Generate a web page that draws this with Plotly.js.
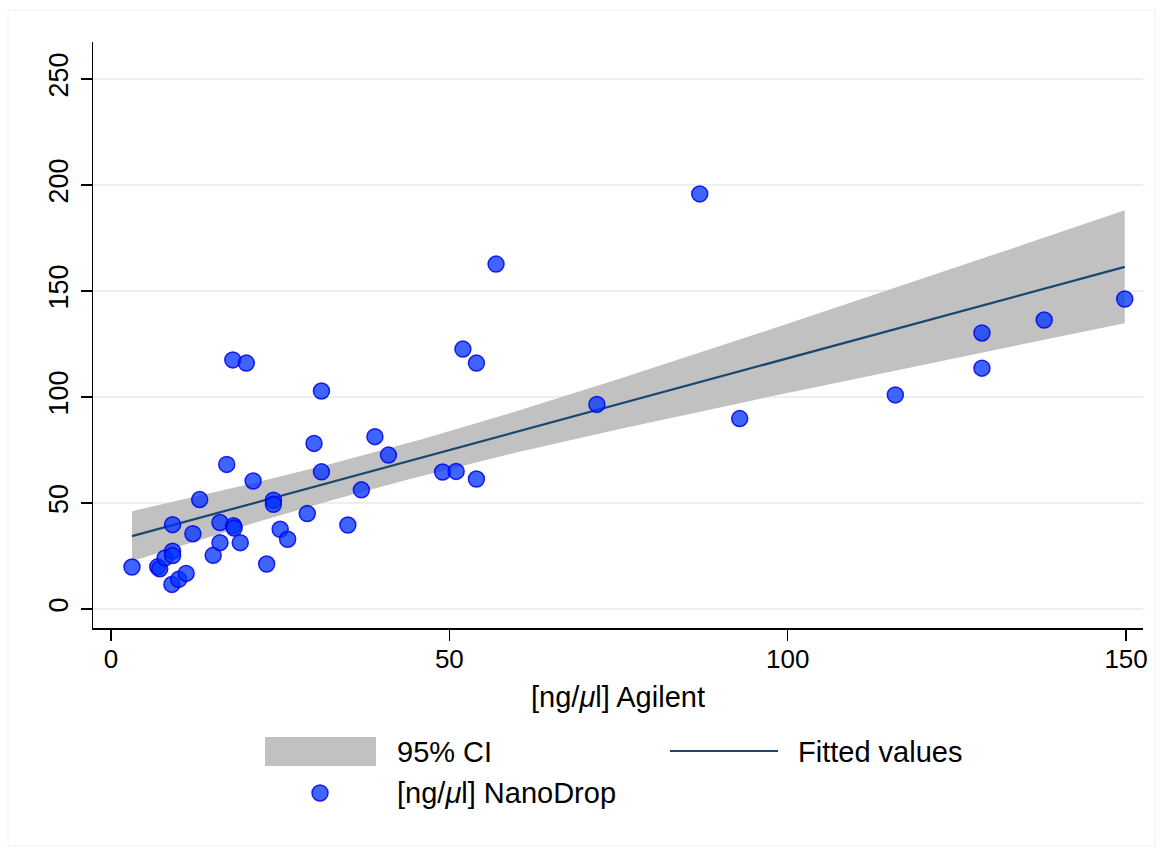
<!DOCTYPE html>
<html>
<head>
<meta charset="utf-8">
<script src="https://cdn.plot.ly/plotly-3.0.1.min.js"></script>
<style>html,body{margin:0;padding:0;background:#fff;}#chart{width:1163px;height:854px;}</style>
</head>
<body>
<div id="chart"></div>
<script>
// [ng/µl] Agilent (x) and [ng/µl] NanoDrop (y)
const agilent = [3.1, 6.9, 7.2, 8.0, 9.1, 9.1, 9.1, 9.0, 10.0, 11.1,
  12.1, 13.1, 15.1, 16.1, 16.1, 17.1, 18.0, 18.1, 18.2, 19.1,
  20.0, 21.0, 23.0, 24.0, 24.0, 25.0, 26.1, 29.0, 30.0, 31.1,
  31.1, 35.0, 37.0, 39.0, 41.0, 49.0, 51.0, 52.0, 54.0, 54.0,
  56.9, 71.8, 87.0, 92.9, 115.9, 128.7, 128.7, 137.9, 149.8];
const nanodrop = [19.8, 19.9, 19.0, 24.1, 27.3, 25.2, 39.8, 11.6, 14.0, 16.8,
  35.5, 51.6, 25.3, 40.8, 31.3, 68.2, 117.5, 39.3, 38.2, 31.3,
  116.0, 60.4, 21.2, 51.3, 49.4, 37.6, 32.9, 45.0, 78.1, 102.8,
  64.7, 39.6, 56.2, 81.3, 72.6, 64.6, 64.9, 122.6, 61.3, 116.0,
  162.7, 96.5, 195.8, 89.8, 101.0, 130.2, 113.6, 136.3, 146.2];
const xTicks = [0, 50, 100, 150];
const yTicks = [0, 50, 100, 150, 200, 250];
const legendLabels = ['95% CI', 'Fitted values', '[ng/<i>μ</i>l] NanoDrop'];

// Linear fit with 95% confidence interval of the mean (like Stata lfitci)
const n = agilent.length;
const mx = agilent.reduce((a, b) => a + b, 0) / n;
const my = nanodrop.reduce((a, b) => a + b, 0) / n;
let sxx = 0, sxy = 0;
for (let i = 0; i < n; i++) { sxx += (agilent[i] - mx) ** 2; sxy += (agilent[i] - mx) * (nanodrop[i] - my); }
const slope = sxy / sxx, icpt = my - slope * mx;
let sse = 0;
for (let i = 0; i < n; i++) { sse += (nanodrop[i] - icpt - slope * agilent[i]) ** 2; }
const s = Math.sqrt(sse / (n - 2));
const tcrit = 2.0117; // t(0.975, df = 47)
const xmin = Math.min(...agilent), xmax = Math.max(...agilent);
const gx = [], gfit = [], glo = [], ghi = [];
const NG = 100;
for (let k = 0; k < NG; k++) {
  const x = xmin + (xmax - xmin) * k / (NG - 1);
  const f = icpt + slope * x;
  const se = s * Math.sqrt(1 / n + (x - mx) ** 2 / sxx);
  gx.push(x); gfit.push(f); glo.push(f - tcrit * se); ghi.push(f + tcrit * se);
}

const FONT = 'Liberation Sans, Arial, Helvetica, sans-serif';
const traces = [
  {x: gx, y: glo, type: 'scatter', mode: 'lines', line: {width: 0, color: 'rgba(0,0,0,0)'}, hoverinfo: 'skip', showlegend: false},
  {x: gx, y: ghi, type: 'scatter', mode: 'lines', line: {width: 0, color: 'rgba(0,0,0,0)'}, fill: 'tonexty', fillcolor: 'rgb(193,193,193)', name: legendLabels[0], showlegend: false},
  {x: gx, y: gfit, type: 'scatter', mode: 'lines', line: {width: 2.2, color: '#1a476f'}, name: legendLabels[1], showlegend: false},
  {x: agilent, y: nanodrop, type: 'scatter', mode: 'markers', name: legendLabels[2], showlegend: false,
   marker: {size: 16, color: 'rgba(0,50,255,0.75)', line: {width: 1.5, color: 'rgba(0,0,235,0.85)'}}}
];

// plot area: x 93..1143 px, y 42..628 px
const L = 93, R = 1143, T = 42, B = 628;
const px = v => (v - L) / (R - L);
const py = v => (B - v) / (B - T);

const layout = {
  width: 1163, height: 854,
  margin: {l: L, r: 1163 - R, t: T, b: 854 - B},
  paper_bgcolor: '#ffffff', plot_bgcolor: '#ffffff',
  font: {family: FONT, color: '#000', size: 26},
  showlegend: false,
  xaxis: {
    range: [-2.66, 152.5], tickvals: xTicks, ticktext: xTicks.map(String),
    showgrid: false, zeroline: false, showline: true, linecolor: '#000', linewidth: 1.5,
    ticks: 'outside', ticklen: 11, tickwidth: 1.5, tickcolor: '#000',
    tickfont: {size: 26, family: FONT}, ticklabelstandoff: -4,
    title: {text: '[ng/<i>μ</i>l] Agilent', font: {size: 29, family: FONT}, standoff: 14},
    automargin: false
  },
  yaxis: {
    range: [-8.96, 267.45], tickvals: yTicks, ticktext: yTicks.map(String),
    showgrid: true, gridcolor: '#e8f0f2', gridwidth: 1.5, zeroline: false,
    showline: true, linecolor: '#000', linewidth: 1.5,
    ticks: 'outside', ticklen: 11, tickwidth: 1.5, tickcolor: '#000',
    tickangle: -90, tickfont: {size: 27, family: FONT}, ticklabelstandoff: 2,
    automargin: false
  },
  shapes: [
    {type: 'rect', xref: 'paper', yref: 'paper', x0: px(8), x1: px(1155), y0: py(10), y1: py(846),
     line: {color: '#eef2f4', width: 1}, fillcolor: 'rgba(0,0,0,0)', layer: 'below'},
    {type: 'rect', xref: 'paper', yref: 'paper', x0: px(265), x1: px(376), y0: py(766), y1: py(737),
     line: {width: 0}, fillcolor: 'rgb(193,193,193)'},
    {type: 'line', xref: 'paper', yref: 'paper', x0: px(670), x1: px(778), y0: py(751), y1: py(751),
     line: {color: '#1a476f', width: 2.2}},
    {type: 'circle', xref: 'paper', yref: 'paper', xsizemode: 'pixel', ysizemode: 'pixel',
     xanchor: px(320), yanchor: py(793), x0: -8, x1: 8, y0: -8, y1: 8,
     fillcolor: 'rgba(0,50,255,0.75)', line: {color: 'rgba(0,0,235,0.85)', width: 1.5}}
  ],
  annotations: [
    {text: legendLabels[0], xref: 'paper', yref: 'paper', x: px(395), y: py(752), xanchor: 'left', yanchor: 'middle', showarrow: false, font: {size: 29, family: FONT}},
    {text: legendLabels[1], xref: 'paper', yref: 'paper', x: px(796), y: py(752), xanchor: 'left', yanchor: 'middle', showarrow: false, font: {size: 29, family: FONT}},
    {text: legendLabels[2], xref: 'paper', yref: 'paper', x: px(395), y: py(793), xanchor: 'left', yanchor: 'middle', showarrow: false, font: {size: 29, family: FONT}}
  ]
};

Plotly.newPlot('chart', traces, layout, {displayModeBar: false, staticPlot: true});
</script>
</body>
</html>
